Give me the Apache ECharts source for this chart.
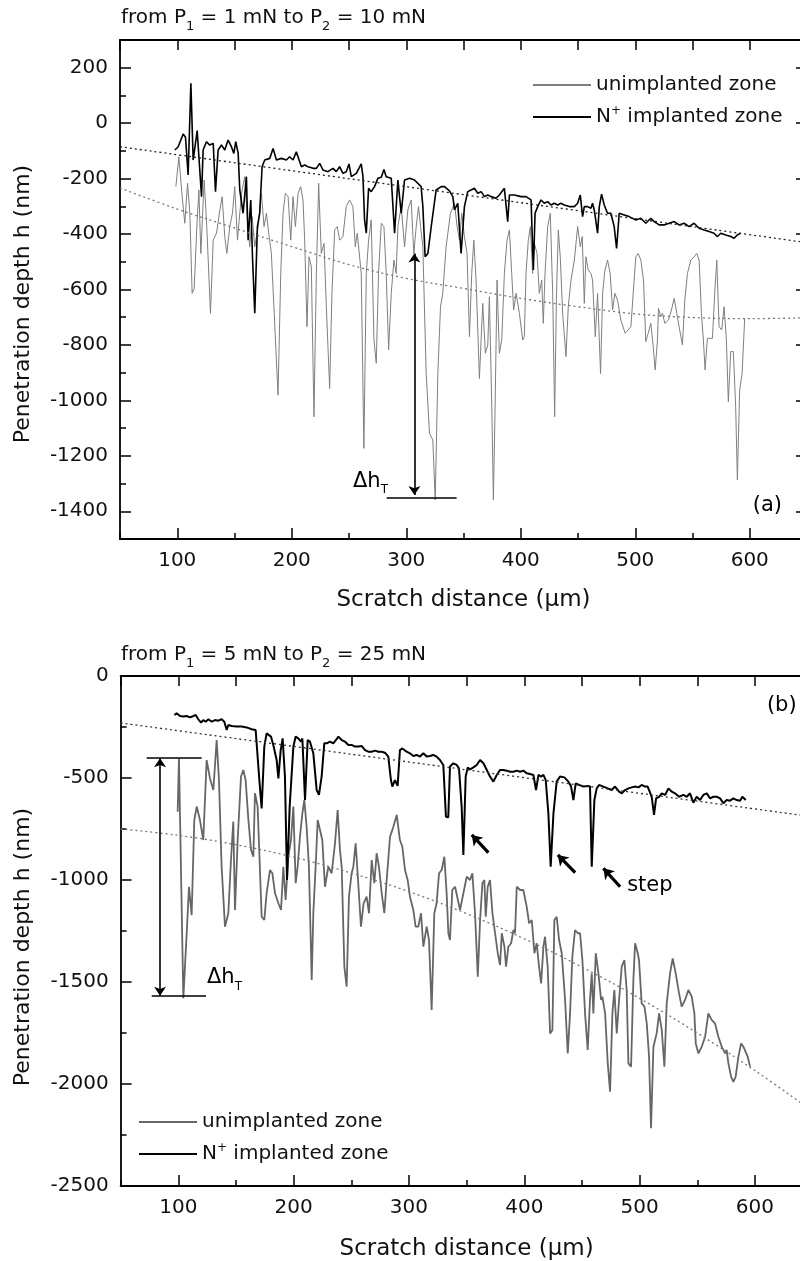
<!DOCTYPE html>
<html>
<head>
<meta charset="utf-8">
<script src="https://cdn.jsdelivr.net/npm/echarts@6/dist/echarts.min.js"></script>
<style>html,body{margin:0;padding:0;background:#fff}#c{width:800px;height:1261px}</style>
</head>
<body>
<div id="c"></div>
<script>
// ---------- Panel (a): from P1 = 1 mN to P2 = 10 mN ----------
const aUnX = [98.8,101.4,104.3,106.6,109.0,111.0,113.0,114.8,117.1,118.9,120.6,123.5,125.8,129.0,131.4,134.3,137.2,139.2,141.5,143.3,145.9,148.2,150.2,152.6,154.6,156.6,159.0,161.3,163.3,165.4,167.7,170.6,173.5,175.8,177.9,179.9,182.2,185.1,188.0,190.4,192.4,194.4,196.8,199.1,201.1,203.2,205.5,207.8,209.8,211.3,213.3,215.1,217.1,219.4,221.5,223.5,225.8,228.2,230.2,233.1,235.1,237.5,239.8,241.8,244.7,247.6,250.5,253.4,255.5,257.2,260.7,263.0,265.1,267.1,269.4,271.8,273.8,275.8,278.2,280.5,282.5,284.6,286.9,289.2,291.2,292.7,295.6,298.5,301.4,304.3,306.6,308.7,310.7,312.5,314.5,317.4,320.3,323.2,325.3,327.6,329.9,331.9,334.8,338.6,
  342.1,344.4,346.5,348.5,350.8,353.1,355.2,357.2,359.0,361.0,363.9,366.8,369.1,371.2,372.6,374.7,376.1,377.6,379.3,381.3,383.4,385.7,388.0,390.1,392.1,393.8,395.9,398.8,401.7,403.1,404.6,406.6,408.4,410.4,411.9,414.2,416.2,418.3,419.7,421.2,423.5,425.8,427.9,429.6,431.1,432.8,434.5,436.6,439.5,441.5,443.9,446.8,449.7,452.0,453.7,455.5,456.9,459.0,461.3,462.7,465.1,467.1,469.7,471.5,473.5,475.8,478.1,480.2,482.2,484.5,487.4,491.2,493.8,496.2,498.2,500.5,502.6,504.9,507.2,509.2,511.3,513.6,515.7,517.4,519.4,520.3,522.3,523.8,525.8,529.0,531.6,534.0,536.3,538.3,541.2,543.3,545.6,548.5,551.4,553.7,555.8,557.8,559.5,561.0,563.0,567.4,569.4,571.2,573.2,575.5,577.6,579.6,581.3,583.4,585.7,587.7,589.2,591.2,593.3,595.6];
const aUnY = [-229,-121,-265,-361,-217,-325,-614,-596,-373,-241,-470,-205,-373,-686,-422,-397,-313,-265,-409,-470,-373,-325,-229,-422,-325,-241,-193,-349,-446,-337,-446,-373,-253,-373,-325,-397,-470,-722,-981,-542,-325,-253,-265,-422,-265,-373,-253,-229,-277,-422,-734,-482,-518,-1059,-542,-217,-470,-434,-662,-957,-614,-385,-373,-422,-409,-301,-277,-301,-446,-397,-542,-1173,-542,-422,-349,-782,-866,-542,-361,-373,-542,-818,-614,-494,-542,-373,-301,-446,-313,-277,-470,-373,-301,-373,-446,-903,-1119,-1143,-1359,-903,-662,-614,-446,-325,
  -289,-373,-422,-325,-409,-470,-770,-542,-422,-566,-921,-650,-830,-800,-626,-1023,-1359,-1023,-566,-830,-782,-542,-422,-385,-542,-674,-614,-686,-782,-770,-542,-422,-373,-542,-434,-470,-614,-566,-722,-542,-373,-325,-614,-1059,-638,-385,-482,-686,-842,-662,-566,-494,-373,-446,-409,-650,-482,-530,-542,-566,-770,-614,-903,-614,-530,-494,-542,-674,-614,-638,-710,-758,-746,-734,-614,-482,-470,-494,-566,-788,-758,-722,-806,-890,-782,-668,-698,-686,-722,-710,-674,-632,-686,-734,-800,-638,-542,-494,-482,-470,-494,-686,-782,-890,-776,-776,-614,-494,-734,-746,-662,-782,-1005,-824,-824,-1023,-1287,-963,-903,-704];
const aImpX = [97.9,100.8,105.2,107.2,109.5,111.9,113.9,117.4,119.1,121.2,122.6,125.5,128.4,131.4,133.4,135.7,138.6,141.5,144.4,147.3,149.4,151.1,153.2,154.6,157.5,160.4,161.9,164.2,165.7,167.7,170.0,172.0,174.1,176.4,180.8,183.7,186.6,190.9,195.3,198.2,201.1,204.0,205.5,208.4,211.3,214.2,218.6,221.5,224.4,227.3,231.6,236.0,238.9,241.8,244.7,247.6,250.0,252.0,256.4,260.7,262.2,263.6,265.1,267.1,269.4,272.3,275.2,278.2,280.5,282.5,286.9,289.8,292.7,295.6,298.5,302.9,307.2,313.0,314.5,316.5,318.9,321.8,326.1,330.5,333.4,337.7,340.7,342.1,345.0,347.9,350.8,
  353.7,356.6,359.5,362.5,365.4,368.3,371.2,374.1,378.4,381.3,385.7,388.6,390.1,394.4,400.2,404.6,409.0,411.0,412.5,414.8,417.7,420.6,423.5,426.4,429.3,432.2,435.1,438.0,442.4,446.8,449.7,452.0,454.0,455.5,458.4,461.3,462.7,464.2,467.1,468.6,470.6,472.9,475.8,478.7,481.6,483.7,486.0,490.4,494.7,500.5,504.9,509.2,513.6,516.5,520.9,525.2,529.6,534.0,538.3,542.7,547.0,551.4,555.8,560.1,564.5,568.8,571.8,574.7,579.0,583.4,586.3,589.2,592.1];
const aImpY = [-97,-85,-39,-51,-187,144,-133,-27,-133,-265,-97,-67,-79,-73,-247,-97,-79,-97,-61,-85,-109,-67,-109,-241,-325,-193,-422,-277,-482,-686,-373,-325,-157,-133,-127,-91,-133,-127,-133,-121,-133,-103,-97,-157,-151,-157,-163,-163,-145,-169,-175,-163,-175,-157,-181,-175,-147,-193,-181,-147,-193,-349,-397,-235,-247,-229,-199,-195,-167,-193,-199,-397,-205,-325,-205,-199,-205,-229,-301,-482,-470,-373,-241,-229,-229,-244,-265,-313,-289,-470,-301,
  -247,-241,-235,-253,-247,-265,-259,-265,-271,-259,-235,-355,-259,-259,-265,-265,-277,-530,-325,-301,-277,-289,-283,-295,-289,-295,-289,-295,-301,-301,-289,-259,-337,-301,-301,-307,-289,-313,-397,-301,-256,-295,-325,-325,-373,-452,-325,-331,-337,-349,-343,-361,-343,-355,-367,-367,-361,-355,-367,-361,-373,-361,-379,-385,-391,-397,-409,-397,-403,-409,-415,-403,-397];
const aFitUpX = [50, 650];
const aFitUpY = [-85, -431];
const aFitLoX = [50, 100, 150, 200, 250, 300, 350, 400, 450, 500, 550, 600, 650];
const aFitLoY = [-234, -310, -378, -445, -510, -560, -596, -632, -662, -688, -701, -705, -702];

// ---------- Panel (b): from P1 = 5 mN to P2 = 25 mN ----------
const bUnX = [99.5,100.6,104.4,107.3,109.3,111.6,113.9,116.0,118.8,121.7,124.6,127.5,130.4,133.3,135.3,137.6,140.5,143.4,145.7,147.7,149.2,151.5,154.4,156.4,158.4,160.8,163.1,165.1,166.5,168.8,170.3,172.3,174.6,176.6,179.5,181.6,183.9,186.8,189.1,191.1,193.1,195.4,197.7,199.8,201.8,203.5,205.5,207.6,209.3,211.3,213.3,215.7,217.1,219.1,220.9,222.9,224.9,227.2,230.1,233.0,235.9,238.2,240.2,241.7,244.0,246.0,248.0,250.3,251.8,253.8,255.5,258.4,260.7,263.3,265.4,267.7,270.0,272.0,274.0,276.4,278.7,280.7,283.6,286.5,289.4,292.2,294.3,296.6,298.9,300.9,303.8,305.8,308.1,310.5,312.5,315.4,317.4,319.7,322.0,324.0,326.1,328.4,330.7,332.7,334.2,335.6,337.6,
  340.0,344.3,347.2,350.1,353.0,355.0,357.3,359.7,361.7,363.7,365.4,366.6,368.3,370.3,372.4,374.7,377.0,379.0,380.5,382.8,384.2,386.2,388.6,390.6,392.0,393.5,396.4,399.2,402.1,404.2,406.5,408.8,410.8,412.8,414.6,416.6,418.0,420.3,422.4,424.4,426.1,428.1,430.2,432.5,435.4,437.7,439.7,441.7,444.0,446.4,448.4,450.4,452.7,455.0,457.0,458.5,459.9,462.0,464.3,466.6,467.7,470.1,472.4,474.4,476.4,478.1,480.2,482.2,484.5,486.8,488.8,490.3,492.6,494.6,496.1,498.4,499.5,501.8,504.2,506.2,508.2,509.9,512.0,514.8,516.9,519.2,521.5,523.5,526.4,528.7,531.3,534.2,536.5,539.4,542.3,545.2,547.5,548.7,551.0,553.9,556.8,559.6,562.5,565.4,568.3,571.2,574.1,575.5,577.0,579.3,581.3,583.3,585.7,588.0,590.0,593.7,595.8];
const bUnY = [-665,-404,-1580,-1261,-1033,-1172,-706,-640,-706,-804,-412,-502,-559,-314,-510,-935,-1229,-1163,-902,-714,-1147,-804,-493,-461,-510,-706,-853,-886,-575,-640,-869,-1180,-1196,-1065,-951,-967,-1065,-1114,-1147,-935,-1098,-886,-804,-640,-1016,-935,-788,-673,-608,-739,-935,-1490,-1163,-935,-706,-755,-804,-1033,-935,-967,-820,-657,-853,-935,-1425,-1523,-1082,-967,-935,-820,-967,-1229,-1114,-1082,-1163,-902,-1016,-869,-935,-1065,-1163,-1000,-788,-739,-681,-804,-837,-951,-1000,-1082,-1147,-1229,-1229,-1163,-1327,-1229,-1294,-1637,-1163,-1114,-967,-951,-886,-1065,-1261,-1294,-1049,
  -1033,-1147,-1065,-984,-1000,-967,-1163,-1474,-1196,-1016,-1000,-1180,-1033,-1000,-1163,-1261,-1359,-1417,-1261,-1327,-1425,-1327,-1310,-1245,-1261,-1033,-1049,-1049,-1131,-1212,-1196,-1359,-1310,-1425,-1507,-1327,-1278,-1425,-1752,-1735,-1196,-1180,-1294,-1359,-1588,-1850,-1654,-1376,-1245,-1261,-1261,-1392,-1654,-1833,-1588,-1458,-1654,-1359,-1458,-1588,-1572,-1654,-1899,-2038,-1654,-1539,-1752,-1588,-1425,-1392,-1539,-1899,-1915,-1490,-1310,-1359,-1392,-1605,-1621,-1703,-1866,-2217,-1817,-1752,-1654,-1735,-1915,-1605,-1458,-1384,-1458,-1556,-1621,-1588,-1539,-1572,-1654,-1801,-1850,-1817,-1768,-1654,-1686,-1703,-1768,-1817,-1850,-1833,-1899,-1964,-1989,-1964,-1866,-1801,-1817,-1866,-1915];
const bImpX = [96.6,98.6,101.5,104.4,107.3,110.2,113.1,115.1,117.4,119.7,121.7,123.8,126.1,129.0,131.9,134.7,137.6,139.9,142.0,143.4,146.3,150.6,155.0,159.3,163.6,167.1,168.8,170.3,172.3,174.6,176.6,180.4,182.4,185.3,186.8,188.8,190.5,192.5,194.3,196.6,199.8,201.8,204.1,206.4,207.6,209.9,212.2,214.2,217.1,220.0,222.0,224.3,226.6,228.7,231.6,234.4,237.3,238.8,241.7,244.6,247.5,250.3,253.2,256.1,259.0,261.9,264.8,267.7,270.6,273.5,276.4,279.2,282.1,284.4,285.6,287.9,290.2,292.2,294.3,298.0,300.9,303.8,306.7,309.6,312.5,315.4,318.3,321.1,324.0,326.9,329.8,332.1,334.1,335.6,338.5,341.4,343.4,345.7,347.2,
  349.2,351.0,353.0,355.9,358.8,361.7,364.6,367.5,370.3,373.2,376.1,379.0,381.9,384.8,387.7,390.6,393.5,396.4,399.2,402.1,405.0,407.9,410.2,412.3,414.6,416.6,418.6,420.9,422.9,425.3,428.1,431.0,434.8,438.3,440.6,442.6,444.6,447.5,451.3,455.0,457.0,458.5,460.8,462.8,464.8,468.6,472.4,475.8,478.7,482.2,484.5,487.4,490.3,493.2,496.1,499.0,501.8,504.7,507.0,510.5,512.5,514.3,516.9,519.2,522.1,525.0,527.9,530.7,534.2,538.0,540.9,543.7,546.6,549.5,552.4,555.3,558.2,561.1,564.0,566.9,569.8,572.6,575.5,578.4,581.3,584.2,587.1,589.1,592.0];
const bImpY = [-191,-183,-196,-199,-196,-203,-196,-191,-212,-229,-216,-224,-212,-224,-216,-219,-212,-224,-265,-240,-245,-248,-248,-252,-261,-265,-257,-510,-649,-346,-281,-297,-338,-412,-502,-363,-306,-493,-1000,-640,-346,-297,-306,-322,-306,-608,-314,-322,-379,-559,-583,-493,-330,-330,-322,-330,-310,-297,-314,-322,-338,-338,-346,-346,-343,-363,-371,-371,-366,-371,-371,-376,-395,-510,-542,-510,-539,-363,-355,-371,-379,-392,-387,-395,-379,-395,-392,-387,-395,-412,-436,-690,-693,-444,-428,-436,-453,-640,-877,
  -493,-448,-458,-448,-436,-412,-428,-461,-493,-518,-485,-461,-461,-464,-469,-469,-464,-469,-464,-477,-480,-485,-559,-485,-493,-485,-510,-673,-935,-673,-518,-493,-497,-518,-542,-608,-526,-534,-542,-539,-542,-935,-608,-551,-534,-542,-551,-559,-542,-567,-575,-559,-551,-546,-542,-546,-534,-542,-542,-592,-681,-600,-592,-575,-583,-551,-567,-575,-592,-583,-592,-575,-621,-592,-608,-583,-575,-600,-592,-592,-600,-624,-608,-611,-600,-608,-611,-592,-608];
const bFitUpX = [50, 650];
const bFitUpY = [-230, -690];
const bFitLoX = [50, 100, 150, 200, 250, 300, 350, 400, 450, 500, 550, 600, 650];
const bFitLoY = [-750, -781, -827, -888, -966, -1057, -1165, -1288, -1427, -1580, -1750, -1934, -2134];

// ---------- ticks & annotations (data units) ----------
const xMajorTicks = [100, 200, 300, 400, 500, 600];
const aYMajorTicks = [-1400, -1200, -1000, -800, -600, -400, -200, 0, 200];
const aDeltaArrow = [[307.1, -470], [307.1, -1341]];
const aDeltaBase = [[282.9, -1350], [344.0, -1350]];
const bDeltaArrow = [[84.2, -403], [84.2, -1567]];
const bDeltaTop = [[72.6, -403], [120.3, -403]];
const bDeltaBase = [[77.0, -1567], [124.0, -1567]];
const bStepArrows = [
  [[368.9, -866], [354.5, -779]],
  [[444.1, -964], [429.1, -877]],
  [[483.1, -1033], [468.6, -943]]
];
const aTexts = [
  { pos: [253.5, -1291], text: '{m|Δh}{s|T}' },
  { pos: [602.6, -1381], text: '{m|(a)}' }
];
const bTexts = [
  { pos: [124.9, -1478], text: '{m|Δh}{s|T}' },
  { pos: [489.2, -1025], text: '{m|step}' },
  { pos: [610.4, -147], text: '{m|(b)}' }
];

// ---------- chart ----------
const FONT = 'DejaVu Sans';
const INK = '#111';
const zip = (xs, ys) => xs.map((x, i) => [x, ys[i]]);
const lineW = 1.8;

function xAxesFor(gi) {
  return [
    { type: 'value', gridIndex: gi, position: 'bottom', min: 50, max: 650,
      axisLine: { show: true, onZero: false, lineStyle: { color: '#000', width: lineW } },
      axisTick: { show: true, inside: true, length: 11, customValues: xMajorTicks, lineStyle: { color: '#000', width: 1.5 } },
      axisLabel: { show: true, customValues: xMajorTicks, margin: 12, fontSize: 20, fontFamily: FONT, color: INK },
      splitLine: { show: false },
      name: 'Scratch distance (µm)', nameLocation: 'middle', nameGap: gi === 0 ? 50 : 52,
      nameTextStyle: { fontSize: 23, fontFamily: FONT, color: INK } },
    { type: 'value', gridIndex: gi, position: 'bottom', min: 50, max: 650, interval: 100,
      axisLine: { show: false, onZero: false },
      axisTick: { show: true, inside: true, length: 6, lineStyle: { color: '#000', width: 1.5 } },
      axisLabel: { show: false }, splitLine: { show: false } },
    { type: 'value', gridIndex: gi, position: 'top', min: 50, max: 650, interval: 50,
      axisLine: { show: true, onZero: false, lineStyle: { color: '#000', width: lineW } },
      axisTick: { show: true, inside: true, length: 10, lineStyle: { color: '#000', width: 1.5 } },
      axisLabel: { show: false }, splitLine: { show: false } }
  ];
}
function yAxesFor(gi, min, max, major, minorInterval) {
  const custom = Array.isArray(major);
  const base = { type: 'value', gridIndex: gi, min: min, max: max };
  const tickMajor = custom ? { customValues: major } : {};
  const labelMajor = custom ? { customValues: major } : {};
  const majorInterval = custom ? {} : { interval: major };
  return [
    Object.assign({}, base, majorInterval, { position: 'left',
      axisLine: { show: true, onZero: false, lineStyle: { color: '#000', width: lineW } },
      axisTick: Object.assign({ show: true, inside: true, length: 11, lineStyle: { color: '#000', width: 1.5 } }, tickMajor),
      axisLabel: Object.assign({ show: true, margin: 12, fontSize: 20, fontFamily: FONT, color: INK, formatter: v => String(v) }, labelMajor),
      splitLine: { show: false } }),
    Object.assign({}, base, { position: 'left', interval: minorInterval,
      axisLine: { show: false, onZero: false },
      axisTick: { show: true, inside: true, length: 6, lineStyle: { color: '#000', width: 1.5 } },
      axisLabel: { show: false }, splitLine: { show: false } }),
    Object.assign({}, base, majorInterval, { position: 'right',
      axisLine: { show: true, onZero: false, lineStyle: { color: '#000', width: lineW } },
      axisTick: Object.assign({ show: true, inside: true, length: 11, lineStyle: { color: '#000', width: 1.5 } }, tickMajor),
      axisLabel: { show: false }, splitLine: { show: false } })
  ];
}

const legendRich = {
  n: { fontSize: 20, fontFamily: FONT, color: INK, lineHeight: 24 },
  sup: { fontSize: 12, fontFamily: FONT, color: INK, lineHeight: 12, verticalAlign: 'top' }
};
const legendFormatter = name => (name.endsWith('Imp') ? '{n|N}{sup|+}{n| implanted zone}' : '{n|unimplanted zone}');
const titleRich = {
  n: { fontSize: 20, fontFamily: FONT, color: INK, lineHeight: 30, fontWeight: 'normal' },
  s: { fontSize: 13, fontFamily: FONT, color: INK, lineHeight: 12, verticalAlign: 'bottom', fontWeight: 'normal' }
};
const annoRich = {
  m: { fontSize: 21, fontFamily: FONT, fill: '#000', lineHeight: 30 },
  s: { fontSize: 12, fontFamily: FONT, fill: '#000', lineHeight: 12, verticalAlign: 'bottom' }
};

function dataLine(name, xs, ys, xi, yi, color, width, z) {
  return { name: name, type: 'line', xAxisIndex: xi, yAxisIndex: yi, data: zip(xs, ys),
    symbol: 'none', showSymbol: false, lineStyle: { color: color, width: width }, itemStyle: { color: color },
    z: z, silent: true };
}
function fitLine(xs, ys, xi, yi, color) {
  return { type: 'line', xAxisIndex: xi, yAxisIndex: yi, data: zip(xs, ys), smooth: 0.4,
    symbol: 'none', showSymbol: false, lineStyle: { color: color, width: 1.3, type: [2, 3] }, z: 4, silent: true };
}
function legendFor(left, top, names) {
  return { left: left, top: top, orient: 'vertical', itemWidth: 58, itemHeight: 14, itemGap: 8, selectedMode: false,
    padding: 0, itemStyle: { opacity: 0, borderWidth: 0 },
    data: names, formatter: legendFormatter,
    textStyle: { fontSize: 20, fontFamily: FONT, color: INK, lineHeight: 24, rich: legendRich } };
}

const option = {
  animation: false,
  backgroundColor: '#fff',
  textStyle: { fontFamily: FONT },
  title: [
    { left: 121, top: 3, padding: 0, text: '{n|from P}{s|1}{n| = 1 mN to P}{s|2}{n| = 10 mN}', textStyle: { rich: titleRich, fontWeight: 'normal' } },
    { left: 121, top: 640, padding: 0, text: '{n|from P}{s|1}{n| = 5 mN to P}{s|2}{n| = 25 mN}', textStyle: { rich: titleRich, fontWeight: 'normal' } }
  ],
  grid: [
    { left: 120, top: 40, width: 687, height: 499, outerBoundsMode: 'none', containLabel: false },
    { left: 120.6, top: 676, width: 692, height: 510, outerBoundsMode: 'none', containLabel: false }
  ],
  xAxis: xAxesFor(0).concat(xAxesFor(1)),
  yAxis: yAxesFor(0, -1500, 300, aYMajorTicks, 200).concat(yAxesFor(1, -2500, 0, 500, 250)),
  legend: [ legendFor(532, 73, ['aUn', 'aImp']), legendFor(138, 1110, ['bUn', 'bImp']) ],
  series: [
    dataLine('aUn', aUnX, aUnY, 0, 0, '#7f7f7f', 1, 2),
    dataLine('aImp', aImpX, aImpY, 0, 0, '#000', 1.6, 3),
    fitLine(aFitUpX, aFitUpY, 0, 0, '#222'),
    fitLine(aFitLoX, aFitLoY, 0, 0, '#777'),
    dataLine('bUn', bUnX, bUnY, 3, 3, '#666', 1.8, 2),
    dataLine('bImp', bImpX, bImpY, 3, 3, '#000', 2, 3),
    fitLine(bFitUpX, bFitUpY, 3, 3, '#333'),
    fitLine(bFitLoX, bFitLoY, 3, 3, '#777'),
    { type: 'lines', coordinateSystem: 'cartesian2d', xAxisIndex: 0, yAxisIndex: 0, silent: true, z: 5,
      data: [
        { coords: aDeltaArrow, symbol: ['arrow', 'arrow'], symbolSize: 9, lineStyle: { color: '#000', width: 1.6 } },
        { coords: aDeltaBase, symbol: ['none', 'none'], lineStyle: { color: '#000', width: 1.6 } }
      ], lineStyle: { color: '#000', width: 1.6, opacity: 1 } },
    { type: 'lines', coordinateSystem: 'cartesian2d', xAxisIndex: 3, yAxisIndex: 3, silent: true, z: 5,
      data: [
        { coords: bDeltaArrow, symbol: ['arrow', 'arrow'], symbolSize: 9, lineStyle: { color: '#000', width: 1.6 } },
        { coords: bDeltaTop, symbol: ['none', 'none'], lineStyle: { color: '#000', width: 1.6 } },
        { coords: bDeltaBase, symbol: ['none', 'none'], lineStyle: { color: '#000', width: 1.6 } }
      ].concat(bStepArrows.map(c => ({ coords: c, symbol: ['none', 'arrow'], symbolSize: 10, lineStyle: { color: '#000', width: 3.2 } }))),
      lineStyle: { color: '#000', width: 1.6, opacity: 1 } }
  ]
};

const chart = echarts.init(document.getElementById('c'), null, { renderer: 'canvas', width: 800, height: 1261 });
chart.setOption(option);

// Text annotations, placed through the chart's own axes
function annoGraphics(items, xi, yi) {
  return items.map(it => {
    const p = chart.convertToPixel({ xAxisIndex: xi, yAxisIndex: yi }, it.pos);
    return { type: 'text', x: p[0], y: p[1], silent: true, z: 10,
      style: { text: it.text, rich: annoRich, fill: '#000', font: '21px "DejaVu Sans"', align: 'left', verticalAlign: 'middle' } };
  });
}
chart.setOption({
  graphic: [
    { type: 'text', x: 23, y: 304, rotation: Math.PI / 2, silent: true,
      style: { text: 'Penetration depth h (nm)', font: '22px "DejaVu Sans"', fill: INK, align: 'center', verticalAlign: 'middle' } },
    { type: 'text', x: 23, y: 947, rotation: Math.PI / 2, silent: true,
      style: { text: 'Penetration depth h (nm)', font: '22px "DejaVu Sans"', fill: INK, align: 'center', verticalAlign: 'middle' } }
  ].concat(annoGraphics(aTexts, 0, 0), annoGraphics(bTexts, 3, 3))
});
</script>
</body>
</html>
